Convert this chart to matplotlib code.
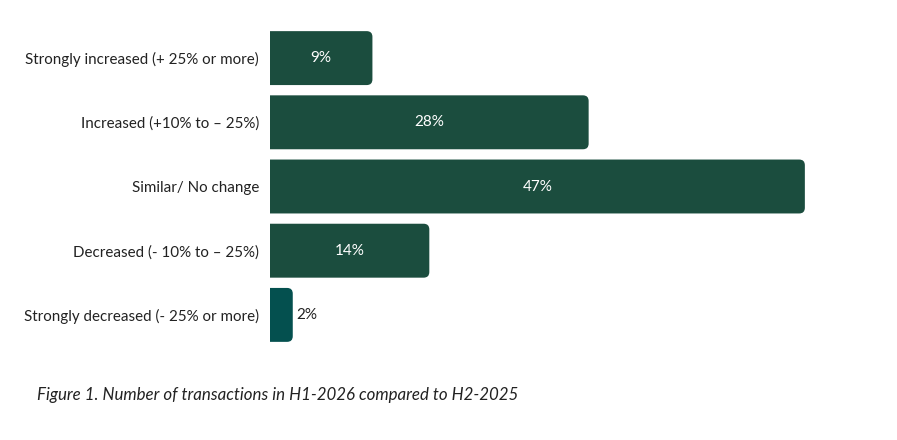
import matplotlib
matplotlib.use("Agg")
import matplotlib.pyplot as plt
from matplotlib.patches import FancyBboxPatch

# Survey answers (top to bottom) and their shares in %
categories = [
    "Strongly increased (+ 25% or more)",
    "Increased (+10% to \u2013 25%)",
    "Similar/ No change",
    "Decreased (- 10% to \u2013 25%)",
    "Strongly decreased (- 25% or more)",
]
shares = [9, 28, 47, 14, 2]
bar_colors = ["#1b4d3e", "#1b4d3e", "#1b4d3e", "#1b4d3e", "#04504f"]

plt.rcParams["font.family"] = ["Lato", "DejaVu Sans"]

fig = plt.figure(figsize=(8.97, 4.40), dpi=100)
ax = fig.add_axes([270 / 897, 1 - 347 / 440, 569 / 897, (347 - 26) / 440])

xmax = 50
ax.set_xlim(0, xmax)
ax.set_ylim(len(categories) - 0.5, -0.5)

# px per data unit, used to keep the corner rounding circular
px_x = 569 / xmax
px_y = (347 - 26) / len(categories)
h = 0.84
for i, (v, c) in enumerate(zip(shares, bar_colors)):
    box = FancyBboxPatch((-1, i - h / 2), v + 1, h,
                         boxstyle="round,pad=0,rounding_size=0.5",
                         mutation_aspect=px_x / px_y,
                         facecolor=c, edgecolor="none")
    ax.add_patch(box)
    if v >= 5:
        ax.text(v / 2, i, f"{v}%", ha="center", va="center",
                color="white", fontsize=11)
    else:
        ax.text(v + 0.3, i, f"{v}%", ha="left", va="center",
                color="#222222", fontsize=11)

ax.set_yticks(range(len(categories)))
ax.set_yticklabels(categories, fontsize=10.9, color="#222222")
ax.tick_params(axis="y", length=0, pad=8)
ax.set_xticks([])
for s in ax.spines.values():
    s.set_visible(False)

fig.text(37 / 897, 1 - 395 / 440,
         "Figure 1. Number of transactions in H1-2026 compared to H2-2025",
         fontsize=12.2, style="italic", color="#222222", va="center")

fig.savefig("out.png", dpi=100)
